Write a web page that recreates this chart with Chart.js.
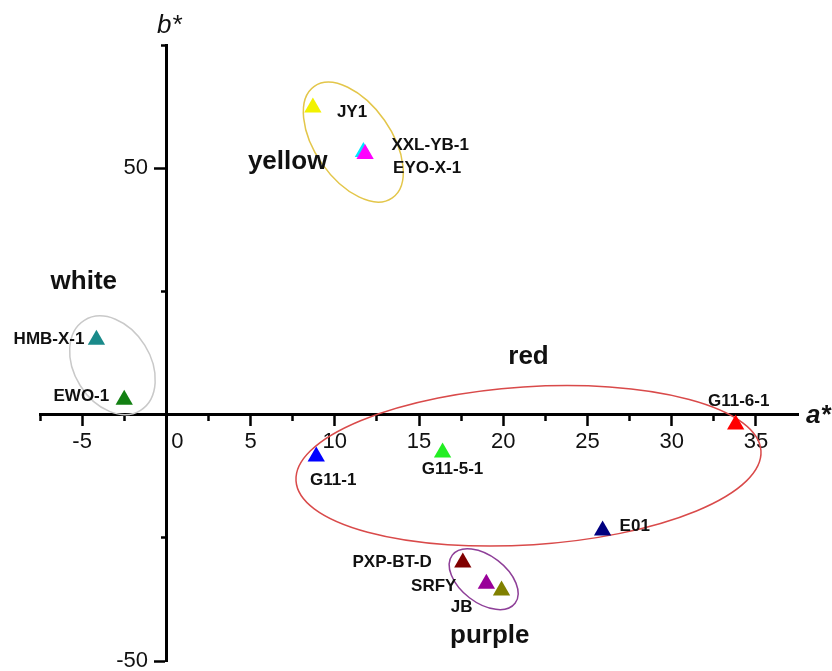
<!DOCTYPE html>
<html>
<head>
<meta charset="utf-8">
<title>a* b* scatter</title>
<script src="https://cdn.jsdelivr.net/npm/chart.js@4.4.1/dist/chart.umd.min.js"></script>
<style>
    html, body { margin: 0; padding: 0; background: #fff; }
    #wrap { width: 832px; height: 671px; position: relative; }
</style>
</head>
<body>
<div id="wrap"><canvas id="chart"></canvas></div>
<script>
// sample names and their a* / b* values
const names = ['JY1', 'XXL-YB-1', 'EYO-X-1', 'HMB-X-1', 'EWO-1', 'G11-1', 'G11-5-1', 'G11-6-1', 'E01', 'PXP-BT-D', 'SRFY', 'JB'];
const aValues = [8.7, 11.7, 11.8, -4.15, -2.5, 8.9, 16.4, 33.8, 25.9, 17.6, 19.0, 19.9];
const bValues = [62.3, 53.3, 52.9, 15.2, 3.0, -8.5, -7.7, -2.0, -23.5, -30.0, -34.3, -35.7];

// tick values
const xMajorTicks = [-5, 0, 5, 10, 15, 20, 25, 30, 35];
const xMinorTicks = [-7.5, -2.5, 2.5, 7.5, 12.5, 17.5, 22.5, 27.5, 32.5];
const yMajorTicks = [-50, 0, 50];
const yMinorTicks = [-25, 25, 75];
const yLabelled = [-50, 50];

// colour groups: name, centre (a*, b*)
const groupNames = ['yellow', 'white', 'red', 'purple'];
const groupA = [7.2, -4.9, 21.5, 19.2];
const groupB = [51.2, 26.9, 11.7, -44.9];

// styles
const pointColors = ['#f2f200', '#00e5ff', '#ff00ff', '#1a8a8a', '#138013', '#0000ff', '#22ee22', '#ff0000', '#000080', '#800000', '#990099', '#808000'];
const labelStyle = [
    { dx: 24, dy: 4.5, align: 'left' },
    { dx: 28, dy: -6.5, align: 'left' },
    { dx: 28, dy: 14.5, align: 'left' },
    { dx: -12, dy: -0.5, align: 'right' },
    { dx: -15, dy: -3.5, align: 'right' },
    { dx: 17, dy: 23.5, align: 'center' },
    { dx: 10, dy: 16.5, align: 'center' },
    { dx: 3, dy: -23.5, align: 'center' },
    { dx: 17, dy: -4.5, align: 'left' },
    { dx: -31, dy: -0.5, align: 'right' },
    { dx: -30, dy: 2.5, align: 'right' },
    { dx: -29, dy: 16.5, align: 'right' }
];
// ellipses round each group: centre in data, semi axes in a* units, rotation in degrees
const ellipses = [
    { a: 11.1, b: 55.3, rx: 4.04, ry: 2.26, rot: 55, color: '#e3c64a' },
    { a: -3.2, b: 10.0, rx: 3.15, ry: 2.26, rot: 58, color: '#c9c9c9' },
    { a: 21.5, b: -10.4, rx: 13.83, ry: 4.69, rot: -3.7, color: '#d94a4a' },
    { a: 18.84, b: -33.4, rx: 2.35, ry: 1.39, rot: 37.5, color: '#8e3f98' }
];

const FONT = '"Liberation Sans", Arial, sans-serif';

const setTicks = (list) => (scale) => {
    scale.ticks = list.map(v => ({ value: v }));
};
// the y axis crosses inside the plot, its end labels need no extra room
const noPadding = (scale) => {
    scale.paddingTop = 0;
    scale.paddingBottom = 0;
};

const annotations = {
    id: 'annotations',
    beforeDatasetsDraw(chart) {
        const ctx = chart.ctx;
        const xs = chart.scales.x;
        const ys = chart.scales.y;
        ctx.save();
        ellipses.forEach(e => {
            const cx = xs.getPixelForValue(e.a);
            const cy = ys.getPixelForValue(e.b);
            const rx = xs.getPixelForValue(e.a + e.rx) - cx;
            const ry = xs.getPixelForValue(e.a + e.ry) - cx;
            ctx.beginPath();
            ctx.ellipse(cx, cy, rx, ry, e.rot * Math.PI / 180, 0, Math.PI * 2);
            ctx.strokeStyle = e.color;
            ctx.lineWidth = 1.5;
            ctx.stroke();
        });
        ctx.restore();
    },
    afterDatasetsDraw(chart) {
        const ctx = chart.ctx;
        const xs = chart.scales.x;
        const ys = chart.scales.y;
        const meta = chart.getDatasetMeta(0);
        ctx.save();
        ctx.fillStyle = '#111';
        ctx.textBaseline = 'middle';

        // point labels
        ctx.font = 'bold 17px ' + FONT;
        meta.data.forEach((pt, i) => {
            const s = labelStyle[i];
            ctx.textAlign = s.align;
            ctx.fillText(names[i], pt.x + s.dx, pt.y + s.dy);
        });

        // group labels
        ctx.font = 'bold 26px ' + FONT;
        ctx.textAlign = 'center';
        groupNames.forEach((g, i) => {
            ctx.fillText(g, xs.getPixelForValue(groupA[i]), ys.getPixelForValue(groupB[i]));
        });

        // axis titles
        ctx.font = 'italic bold 26px ' + FONT;
        ctx.textAlign = 'left';
        ctx.fillText('a*', xs.right + 8, ys.getPixelForValue(0) + 1);
        ctx.font = 'italic 26px ' + FONT;
        ctx.textAlign = 'center';
        ctx.fillText('b*', xs.getPixelForValue(0) + 3, ys.top - 19);
        ctx.restore();
    }
};

const xRange = { min: -7.5, max: 37.5 };
const yRange = { min: -50, max: 75 };

new Chart(document.getElementById('chart'), {
    type: 'scatter',
    data: {
        datasets: [{
            data: names.map((n, i) => ({ x: aValues[i], y: bValues[i] })),
            pointStyle: 'triangle',
            pointRadius: 10,
            pointBorderWidth: 0,
            backgroundColor: pointColors,
            borderColor: pointColors
        }]
    },
    options: {
        responsive: true,
        maintainAspectRatio: false,
        animation: false,
        events: [],
        layout: { padding: { left: 40, top: 45, right: 34, bottom: 9 } },
        plugins: { legend: { display: false }, tooltip: { enabled: false } },
        scales: {
            x: {
                type: 'linear', ...xRange,
                position: { y: 0 },
                afterBuildTicks: setTicks(xMajorTicks),
                border: { display: true, color: '#000', width: 3 },
                grid: { drawOnChartArea: false, drawTicks: true, tickLength: 10, tickWidth: 2.5, tickColor: '#000' },
                ticks: {
                    color: '#111', padding: 4,
                    font: { family: FONT, size: 22 },
                    maxRotation: 0, autoSkip: false,
                    callback: v => v === 0 ? '\u2002\u20020' : String(v)
                }
            },
            x2: {
                type: 'linear', axis: 'x', ...xRange,
                position: { y: 0 },
                afterBuildTicks: setTicks(xMinorTicks),
                border: { display: false },
                grid: { drawOnChartArea: false, drawTicks: true, tickLength: 6, tickWidth: 2.5, tickColor: '#000' },
                ticks: { display: false }
            },
            y: {
                type: 'linear', ...yRange,
                position: { x: 0 },
                afterBuildTicks: setTicks(yMajorTicks),
                afterFit: noPadding,
                border: { display: true, color: '#000', width: 3 },
                grid: { drawOnChartArea: false, drawTicks: true, tickLength: 11, tickWidth: 2.5, tickColor: '#000' },
                ticks: {
                    color: '#111',
                    font: { family: FONT, size: 22 },
                    autoSkip: false,
                    // labels sit right-aligned on the axis line, so pad them with trailing spaces
                    callback: v => yLabelled.includes(v) ? String(v) + '\u2002\u2004' : ''
                }
            },
            y2: {
                type: 'linear', axis: 'y', ...yRange,
                position: { x: 0 },
                afterBuildTicks: setTicks(yMinorTicks),
                afterFit: noPadding,
                border: { display: false },
                grid: { drawOnChartArea: false, drawTicks: true, tickLength: 5, tickWidth: 2.5, tickColor: '#000' },
                ticks: { display: false }
            }
        }
    },
    plugins: [annotations]
});
</script>
</body>
</html>
